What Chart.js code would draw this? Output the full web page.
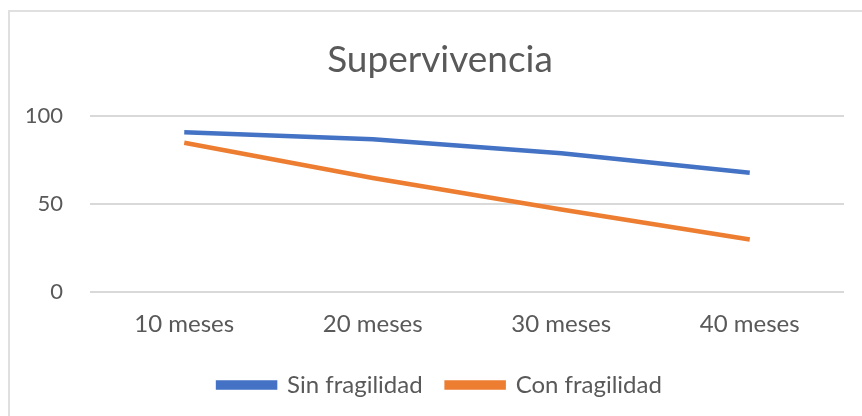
<!DOCTYPE html>
<html>
<head>
<meta charset="utf-8">
<script src="https://cdn.jsdelivr.net/npm/chart.js@4"></script>
<style>
  body { margin: 0; background: #fff; }
  #wrap { position: relative; width: 862px; height: 416px; }
  #frame { position: absolute; left: 8px; top: 10px; width: 870px; height: 420px;
           border-left: 2px solid #e0e0e0; border-top: 2px solid #e0e0e0; }
  canvas { position: absolute; left: 0; top: 0; }
</style>
</head>
<body>
<div id="wrap">
  <div id="frame"></div>
  <canvas id="lineChart" width="862" height="416"></canvas>
</div>
<script>
var months = ['10 meses', '20 meses', '30 meses', '40 meses'];
var sinFragilidad = [91, 87, 79, 68];
var conFragilidad = [85, 65, 47, 30];

var ctx = document.getElementById('lineChart').getContext('2d');

var chart = new Chart(ctx, {
  type: 'line',
  data: {
    labels: months,
    datasets: [{
      label: 'Sin fragilidad',
      data: sinFragilidad,
      borderColor: '#4472C4',
      backgroundColor: '#4472C4',
      borderWidth: 4.5,
      pointRadius: 0,
      tension: 0
    }, {
      label: 'Con fragilidad',
      data: conFragilidad,
      borderColor: '#ED7D31',
      backgroundColor: '#ED7D31',
      borderWidth: 4.5,
      pointRadius: 0,
      tension: 0
    }]
  },
  options: {
    responsive: false,
    animation: false,
    layout: { padding: { left: 27, right: 9, top: 0, bottom: 9 } },
    plugins: {
      title: {
        display: true,
        text: 'Supervivencia',
        color: '#595959',
        font: { family: 'Lato', size: 37, weight: 'normal' },
        padding: { top: 38, bottom: 34 }
      },
      legend: {
        position: 'bottom',
        labels: {
          color: '#595959',
          font: { family: 'Lato', size: 24 },
          boxWidth: 57,
          boxHeight: 5,
          padding: 24
        }
      },
      tooltip: { enabled: false }
    },
    scales: {
      x: {
        offset: true,
        grid: { display: false, drawTicks: false },
        border: { display: false },
        ticks: { color: '#595959', font: { family: 'Lato', size: 24 }, padding: 18 },
        afterFit: function(scale) {
          // plot ends at x=844 while title/legend stay centred a bit to the right
          scale.paddingLeft = 0;
          scale.paddingRight = 18;
          scale.height = scale.height - 8;
        }
      },
      y: {
        min: 0,
        max: 100,
        grid: { color: '#d9d9d9', lineWidth: 2, drawTicks: false },
        border: { display: false },
        ticks: { stepSize: 50, color: '#595959', font: { family: 'Lato', size: 22 }, padding: 27 },
        afterFit: function(scale) {
          scale.width = 63;
        }
      }
    }
  }
});
</script>
</body>
</html>
